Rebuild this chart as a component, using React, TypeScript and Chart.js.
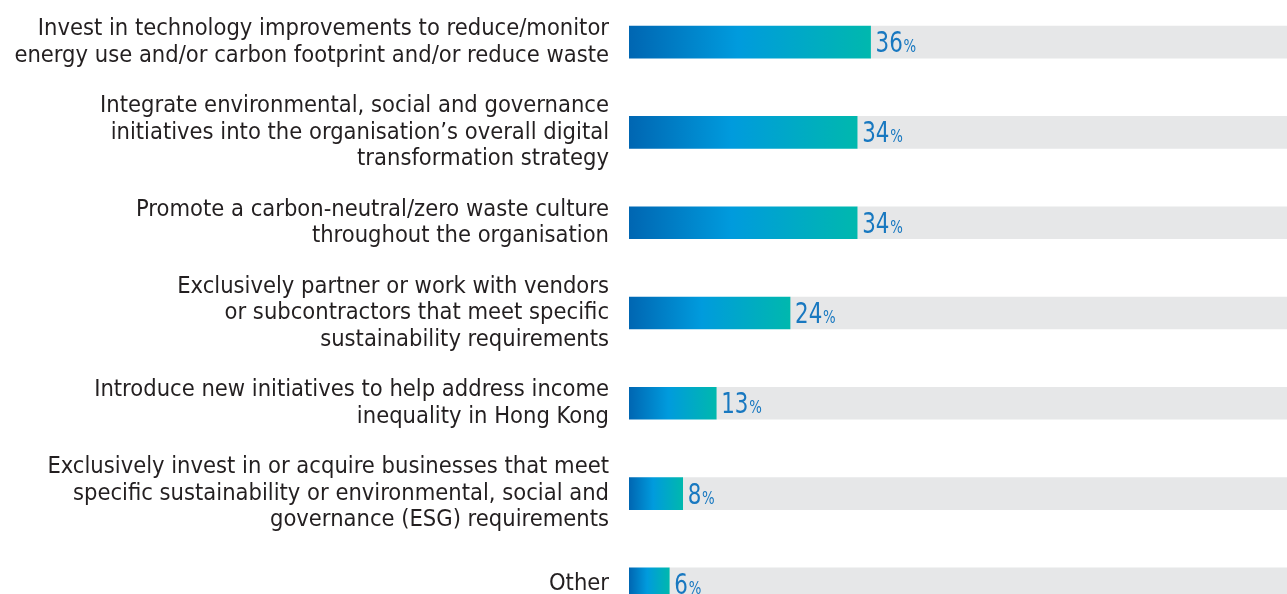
import React, { useEffect, useRef } from "react";
import { Chart, registerables } from "chart.js";

Chart.register(...registerables);

const categories: (string | string[])[] = [
  ["Invest in technology improvements to reduce/monitor", "energy use and/or carbon footprint and/or reduce waste"],
  ["Integrate environmental, social and governance", "initiatives into the organisation\u2019s overall digital", "transformation strategy"],
  ["Promote a carbon-neutral/zero waste culture", "throughout the organisation"],
  ["Exclusively partner or work with vendors", "or subcontractors that meet specific", "sustainability requirements"],
  ["Introduce new initiatives to help address income", "inequality in Hong Kong"],
  ["Exclusively invest in or acquire businesses that meet", "specific sustainability or environmental, social and", "governance (ESG) requirements"],
  "Other",
];

const values: number[] = [36, 34, 34, 24, 13, 8, 6];
const scaleMax = 100;
const remainder: number[] = values.map((v) => scaleMax - v);

const FONT = "'DejaVu Sans Condensed', 'Liberation Sans Narrow', 'Roboto', sans-serif";

const valueLabels = {
  id: "valueLabels",
  afterDatasetsDraw(chart: any) {
    const ctx = chart.ctx;
    const meta = chart.getDatasetMeta(0);
    const sx = 0.82;
    meta.data.forEach((bar: any, i: number) => {
      const num = String(values[i]);
      const x = bar.x + 5;
      const y = bar.y + 10;
      ctx.save();
      ctx.fillStyle = "#1878c0";
      ctx.textBaseline = "alphabetic";
      ctx.textAlign = "left";
      ctx.translate(x, y);
      ctx.scale(sx, 1);
      ctx.font = `29px ${FONT}`;
      ctx.fillText(num, 0, 0);
      const w = ctx.measureText(num).width;
      ctx.font = `18px ${FONT}`;
      ctx.fillText("%", w + 1, 0);
      ctx.restore();
    });
  },
};

export default function App() {
  const ref = useRef<HTMLCanvasElement | null>(null);

  useEffect(() => {
    if (!ref.current) return;
    const chart = new Chart(ref.current, {
      type: "bar",
      data: {
        labels: categories,
        datasets: [
          {
            data: values,
            backgroundColor: (c: any) => {
              const ch = c.chart;
              const xs = ch.scales && ch.scales.x;
              if (!xs || c.raw === undefined) return "#009bdc";
              const x0 = xs.getPixelForValue(0);
              const x1 = xs.getPixelForValue(c.raw);
              if (!isFinite(x0) || !isFinite(x1) || x1 <= x0) return "#009bdc";
              const g = ch.ctx.createLinearGradient(x0, 0, x1, 0);
              g.addColorStop(0, "#0066b2");
              g.addColorStop(0.45, "#009bdd");
              g.addColorStop(1, "#00b8ae");
              return g;
            },
            borderWidth: 0,
            barThickness: 32,
          },
          {
            data: remainder,
            backgroundColor: "#e6e7e8",
            borderWidth: 0,
            barThickness: 32,
          },
        ],
      },
      options: {
        indexAxis: "y",
        animation: false,
        responsive: true,
        maintainAspectRatio: false,
        layout: { padding: { left: 0, right: 10, top: 0, bottom: 0 } },
        plugins: { legend: { display: false }, tooltip: { enabled: false } },
        scales: {
          x: {
            stacked: true,
            display: false,
            min: 0,
            max: scaleMax,
          },
          y: {
            stacked: true,
            grid: { display: false, drawTicks: false },
            border: { display: false },
            ticks: {
              padding: 20,
              color: "#231f20",
              font: { family: FONT, size: 23.5, lineHeight: 1.13 },
            },
            afterFit: (s: any) => {
              s.width = 629;
              s.paddingTop = 0;
              s.paddingBottom = 0;
            },
          },
        },
      },
      plugins: [valueLabels],
    });
    return () => chart.destroy();
  }, []);

  return (
    <div style={{ position: "fixed", left: 0, top: 0, width: 1287, height: 594, overflow: "hidden", background: "#fff" }}>
      <div style={{ position: "absolute", left: 0, top: -3, width: 1310, height: 632 }}>
        <canvas ref={ref} />
      </div>
    </div>
  );
}
